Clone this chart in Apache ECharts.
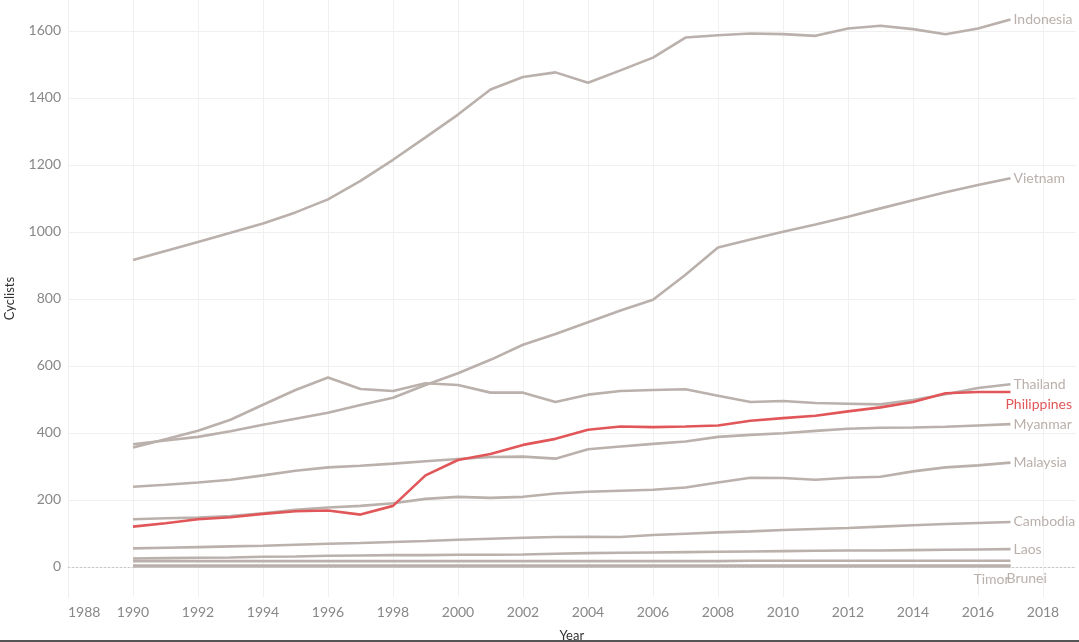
<!DOCTYPE html>
<html><head><meta charset="utf-8">
<script src="https://cdn.jsdelivr.net/npm/echarts@6/dist/echarts.min.js"></script>
<style>html,body{margin:0;padding:0;background:#fff}#c{width:1079px;height:642px}</style>
</head><body><div id="c"></div>
<script>
var years = [1990,1991,1992,1993,1994,1995,1996,1997,1998,1999,2000,2001,2002,2003,2004,2005,2006,2007,2008,2009,2010,2011,2012,2013,2014,2015,2016,2017];
var indonesia = [916,943,970,997,1025,1058,1097,1152,1215,1282,1350,1425,1462,1476,1445,1482,1520,1580,1587,1592,1590,1585,1607,1615,1605,1590,1607,1634];
var vietnam = [366,377,388,405,424,442,460,483,505,543,578,618,663,695,730,765,797,872,953,977,1000,1022,1045,1070,1094,1118,1140,1160];
var thailand = [356,381,406,439,484,528,565,531,525,548,543,520,520,492,514,525,528,530,511,492,495,489,487,485,498,515,534,545];
var philippines = [120,130,142,148,158,166,168,156,182,273,319,337,364,382,409,419,417,419,422,436,444,451,464,476,492,518,522,522];
var myanmar = [239,245,252,260,273,287,297,302,308,315,322,328,329,323,351,359,367,374,388,394,399,406,412,415,416,418,422,426];
var malaysia = [142,145,147,152,160,170,177,182,190,203,209,206,209,219,224,227,230,237,252,266,265,260,266,269,285,297,303,311];
var cambodia = [55,57,59,61,63,66,69,71,74,77,81,84,87,89,90,89,95,99,103,106,110,113,116,120,124,128,131,134];
var laos = [25,26,27,28,30,31,33,34,35,35,36,36,37,39,41,42,43,44,45,46,47,48,49,49,50,51,52,53];
var singapore = [17,17,17,17,17,17,17,17,17,17,17,17,17,17,17,17,17,17,17,18,18,18,18,18,18,18,18,18];
var brunei = [4,4,4,4,4,4,4,4,4,4,4,4,4,4,4,4,4,4,4,4,4,4,4,4,4,4,4,4];
var timor = [1,1,1,1,1,1,1,1,1,1,1,1,1,1,1,1,1,1,1,1,1,1,1,1,1,1,1,1];
var yTicks = [0,200,400,600,800,1000,1200,1400,1600];
var xTicks = [1988,1990,1992,1994,1996,1998,2000,2002,2004,2006,2008,2010,2012,2014,2016,2018];

var GRAY = '#bab0ac', RED = '#e15759', FONT = 'Lato, "Open Sans", sans-serif';
function pairs(arr){ return years.map(function(y,i){ return [y, arr[i]]; }); }
function mk(name, arr, color, label, offset){
  return {
    name: name, type: 'line', data: pairs(arr), symbol: 'none', smooth: false,
    lineStyle: {color: color, width: 2.6}, itemStyle: {color: color},
    z: color === RED ? 5 : 2, silent: true, animation: false,
    endLabel: {show: label, formatter: name, color: color, fontSize: 14, fontFamily: FONT, distance: 3, offset: offset || [0,0]}
  };
}
var series = [
  mk('Timor', timor, GRAY, true, [-40, 13]),
  mk('Brunei', brunei, GRAY, true, [-7, 13]),
  mk('Singapore', singapore, GRAY, false),
  mk('Laos', laos, GRAY, true),
  mk('Cambodia', cambodia, GRAY, true),
  mk('Malaysia', malaysia, GRAY, true),
  mk('Myanmar', myanmar, GRAY, true),
  mk('Thailand', thailand, GRAY, true),
  mk('Vietnam', vietnam, GRAY, true),
  mk('Indonesia', indonesia, GRAY, true),
  mk('Philippines', philippines, RED, true, [-8, 13])
];
series[0].markLine = {silent: true, symbol: 'none', label: {show: false},
  lineStyle: {color: '#c8c8c8', type: [2,2], width: 1}, data: [{yAxis: 0}]};

var chart = echarts.init(document.getElementById('c'), null, {renderer: 'canvas'});
chart.setOption({
  animation: false,
  backgroundColor: '#ffffff',
  grid: {left: 68, right: 3.5, top: 0, bottom: 45, containLabel: false, outerBoundsMode: 'none'},
  xAxis: {
    type: 'value', min: 1988, max: 2019,
    name: 'Year', nameLocation: 'middle', nameGap: 32,
    nameTextStyle: {color: '#333', fontSize: 13, fontFamily: FONT},
    axisLine: {show: true, lineStyle: {color: '#eeeeee'}},
    axisTick: {show: false, customValues: xTicks},
    axisLabel: {color: '#888', fontSize: 14, fontFamily: FONT, margin: 8, customValues: xTicks, alignMinLabel: 'left', formatter: function(v){ return String(v); }},
    splitLine: {show: true, lineStyle: {color: '#f0f0f0'}}
  },
  yAxis: {
    type: 'value', min: -90, max: 1692,
    name: 'Cyclists', nameLocation: 'middle', nameGap: 52, nameRotate: 90,
    nameTextStyle: {color: '#333', fontSize: 13, fontFamily: FONT},
    axisLine: {show: true, lineStyle: {color: '#eeeeee'}},
    axisTick: {show: false, customValues: yTicks},
    axisLabel: {color: '#888', fontSize: 14, fontFamily: FONT, margin: 7, customValues: yTicks, formatter: function(v){ return String(v); }},
    splitLine: {show: true, lineStyle: {color: '#f0f0f0'}}
  },
  graphic: [{type: 'rect', shape: {x: 0, y: 640, width: 1079, height: 2}, style: {fill: '#555'}, silent: true}],
  series: series
});
</script></body></html>
